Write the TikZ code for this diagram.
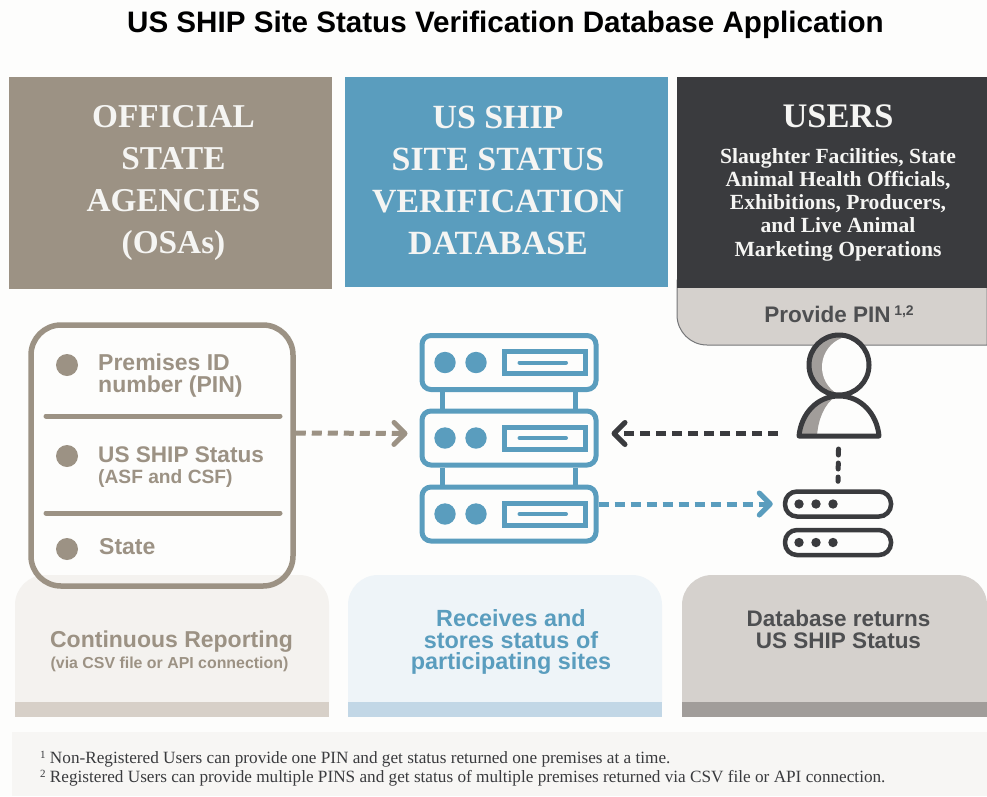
\documentclass[tikz,border=0pt]{standalone}
\usepackage{fontspec}
\setmainfont{Liberation Serif}
\setsansfont{Liberation Sans}
\usetikzlibrary{arrows.meta}
\definecolor{taupe}{HTML}{9C9284}
\definecolor{sky}{HTML}{5A9DBE}
\definecolor{ink}{HTML}{3A3B3E}
\definecolor{pale}{HTML}{D5D1CD}
\definecolor{midgrey}{HTML}{A19D9A}
\definecolor{bgc}{HTML}{FDFDFC}
\definecolor{softt}{HTML}{F4F2EF}
\definecolor{softb}{HTML}{EEF4F8}
\definecolor{stript}{HTML}{D7D0C8}
\definecolor{stripb}{HTML}{C2D7E6}
\newcommand{\fs}[2]{\fontsize{#1}{#2}\selectfont}
\tikzset{
  x=1pt,y=-1pt,
  head/.style={text=bgc!92!taupe,align=center,inner sep=0pt,font=\bfseries\rmfamily},
  sans/.style={align=center,inner sep=0pt,font=\bfseries\sffamily},
  unit/.style={draw=sky,line width=5pt,rounded corners=9pt,minimum width=174pt,minimum height=54pt,inner sep=0pt},
  pill/.style={draw=ink,line width=4.5pt,rounded corners=12pt,minimum width=106pt,minimum height=25pt,inner sep=0pt},
  flow/.style={line width=5pt,dash pattern=on 10pt off 6pt},
  tip/.style={-{Straight Barb[length=11pt,width=22pt,line width=5pt,round]}},
}
\begin{document}
\begin{tikzpicture}
\useasboundingbox (0,0) rectangle (987,796);
\fill[bgc] (0,0) rectangle (987,796);
\node[sans,font=\bfseries\sffamily\fs{29.6}{32}] (title) at (505.5,24.5) {US SHIP Site Status Verification Database Application};
% header panels
\fill[taupe] (9,77) rectangle (332,289);
\fill[sky] (345,77) rectangle (668,287);
\fill[pale,draw=ink!70,line width=1pt] (677,280) -- (677,315) arc[start angle=180,end angle=90,radius=30] -- (987,345) -- (987,280) -- cycle;
\fill[ink] (677,77) rectangle (987,288);
\node[head,font=\bfseries\rmfamily\fs{33.3}{42}] (osa) at (173.5,183.5) {OFFICIAL\\STATE\\AGENCIES\\(OSAs)};
\node[head,font=\bfseries\rmfamily\fs{33.9}{42}] (db) at (498,180.5) {US SHIP\\SITE STATUS\\VERIFICATION\\DATABASE};
\node[head,font=\bfseries\rmfamily\fs{34.4}{40}] (users) at (838,116) {USERS};
\node[head,font=\bfseries\rmfamily\fs{21.6}{23.2}] (userlist) at (838,204.5) {Slaughter Facilities, State\\Animal Health Officials,\\Exhibitions, Producers,\\and Live Animal\\Marketing Operations};
\node[sans,text=ink!90,font=\bfseries\sffamily\fs{22.5}{26}] (pin) at (839,314.5) {Provide PIN\,\raisebox{7pt}{\fs{14}{14}1,2}};
% bottom panels
\fill[softt] (15,702) -- (15,605) arc[start angle=180,end angle=270,radius=30] -- (299,575) arc[start angle=270,end angle=360,radius=30] -- (329,702) -- cycle;
\fill[stript] (15,702) rectangle (329,717);
\fill[softb] (348,702) -- (348,605) arc[start angle=180,end angle=270,radius=30] -- (632,575) arc[start angle=270,end angle=360,radius=30] -- (662,702) -- cycle;
\fill[stripb] (348,702) rectangle (662,717);
\fill[pale] (682,702) -- (682,605) arc[start angle=180,end angle=270,radius=30] -- (957,575) arc[start angle=270,end angle=360,radius=30] -- (987,702) -- cycle;
\fill[midgrey] (682,702) rectangle (987,717);
\node[sans,text=taupe,font=\bfseries\sffamily\fs{23}{26}] (cont) at (171.5,641.5) {Continuous Reporting};
\node[sans,text=taupe,font=\bfseries\sffamily\fs{15.9}{18}] (via) at (169.5,664) {(via CSV file or API connection)};
\node[sans,text=sky,font=\bfseries\sffamily\fs{23.4}{21.5}] (rec) at (511,642) {Receives and\\stores status of\\participating sites};
\node[sans,text=ink!90,font=\bfseries\sffamily\fs{22.5}{22}] (ret) at (838.5,629) {Database returns\\US SHIP Status};
% footnotes
\fill[softt!70] (12,732) rectangle (987,796);
\node[anchor=base west,inner sep=0pt,text=ink,font=\rmfamily\fs{17.2}{19}] (fn1) at (40,763) {\raisebox{5pt}{\fs{11}{11}1} Non-Registered Users can provide one PIN and get status returned one premises at a time.};
\node[anchor=base west,inner sep=0pt,text=ink,font=\rmfamily\fs{17.2}{19}] (fn2) at (40,782) {\raisebox{5pt}{\fs{11}{11}2} Registered Users can provide multiple PINS and get status of multiple premises returned via CSV file or API connection.};
% OSA list box
\node[draw=taupe,line width=5.5pt,rounded corners=30pt,minimum width=262pt,minimum height=261pt,inner sep=0pt] (listbox) at (162,455.5) {};
\draw[taupe,line width=5pt,line cap=round] (46,416) -- (280,416) (46,513) -- (280,513);
\fill[taupe] (67,365) circle[radius=11] (67,456) circle[radius=11] (67,549) circle[radius=11];
\node[sans,text=taupe,anchor=west,align=left,font=\bfseries\sffamily\fs{23}{22}] (p1) at (98,376) {Premises ID\\number (PIN)};
\node[sans,text=taupe,anchor=west,font=\bfseries\sffamily\fs{22.6}{26}] (p2) at (98,455) {US SHIP Status};
\node[sans,text=taupe,anchor=west,font=\bfseries\sffamily\fs{19.2}{20}] (p2b) at (98,478.5) {(ASF and CSF)};
\node[sans,text=taupe,anchor=west,font=\bfseries\sffamily\fs{23}{26}] (p3) at (99,547) {State};
% server stack
\node[unit] (s1) at (509,362.5) {};
\node[unit] (s2) at (509,438) {};
\node[unit] (s3) at (509,514) {};
\foreach \a/\b in {s1/s2,s2/s3}{
  \draw[sky,line width=5pt] ([xshift=-66.5pt]\a.south) -- ([xshift=-66.5pt]\b.north);
  \draw[sky,line width=5pt] ([xshift=66pt]\a.south) -- ([xshift=66pt]\b.north);
}
\foreach \s in {s1,s2,s3}{
  \fill[sky] ([xshift=-64pt]\s.center) circle[radius=10.7];
  \fill[sky] ([xshift=-33pt]\s.center) circle[radius=10.7];
  \draw[sky,line width=5pt] ([xshift=-5pt,yshift=-11pt]\s.center) rectangle ([xshift=76pt,yshift=11pt]\s.center);
  \draw[sky,line width=4pt,line cap=round] ([xshift=10.5pt]\s.center) -- ([xshift=57pt]\s.center);
}
% user icon
\coordinate (uc) at (839,365);
\fill[bgc] (uc) circle[radius=30];
\begin{scope}
  \clip (uc) circle[radius=30];
  \fill[midgrey] (805,330) rectangle (875,400);
  \fill[bgc] (853,367) circle[radius=31];
\end{scope}
\draw[ink,line width=5pt] (uc) circle[radius=30];
\fill[bgc] (799,434) arc[start angle=180,end angle=0,radius=40] -- cycle;
\fill[midgrey] (799,436) .. controls (801,414) and (817,396) .. (836,396) .. controls (824,404) and (818,420) .. (817,436) -- cycle;
\draw[ink,line width=5pt,line join=round] (799,436) .. controls (801,414) and (817,396) .. (839,396) .. controls (861,396) and (877,414) .. (879,436) -- cycle;
\coordinate (ufoot) at (838.5,449);
% client servers
\node[pill] (c1) at (838,504) {};
\node[pill] (c2) at (838,542.5) {};
\foreach \s in {c1,c2}{
  \fill[ink] ([xshift=-39pt]\s.center) circle[radius=4.7];
  \fill[ink] ([xshift=-22pt]\s.center) circle[radius=4.7];
  \fill[ink] ([xshift=-5pt]\s.center) circle[radius=4.7];
}
% connectors
\coordinate (uarr) at (778,433.5);
\draw[flow,taupe,tip] ([yshift=22.5pt]listbox.east) -- ([xshift=-12pt,yshift=4.5pt]s2.west);
\draw[flow,ink,tip] (uarr) -- ([xshift=13pt,yshift=4.5pt]s2.east);
\draw[flow,sky,tip] ([yshift=10pt]s3.east) -- ([xshift=-10pt]c1.west);
\draw[ink,line width=5pt,line cap=round,dash pattern=on 6pt off 8pt] (ufoot) -- ([yshift=8pt]c1.north);
\end{tikzpicture}
\end{document}
